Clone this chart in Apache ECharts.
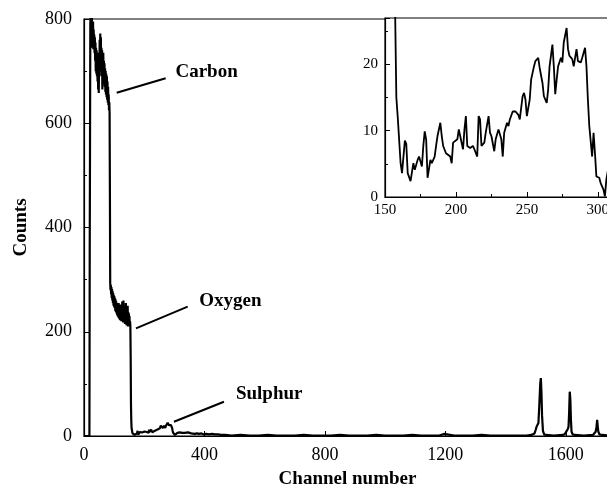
<!DOCTYPE html>
<html><head><meta charset="utf-8">
<script src="https://cdn.jsdelivr.net/npm/echarts@6/dist/echarts.min.js"></script>
<style>html,body{margin:0;padding:0;background:#fff}#c{width:607px;height:489px}</style>
</head><body><div id="c"></div>
<script>
// ---- data: [channel, counts] ----
const riseRegion = [[0,0],[5,0],[10,0],[15,0],[18,0],[19,350],[20,560]];
const carbonRegion = [[21,790],[22,810],[23,760],[24,805],[25,750],[26,810],[27,745],[28,790],[29,760],[30,795],[31,742],[32,780],[33,750],[34,770],[35,735],[36,765],[37,720],[38,755],[39,700],[40,745],[41,695],[42,740],[43,690],[44,720],[45,680],[46,735],[47,665],[48,700],[49,658],[50,720],[51,690],[52,760],[53,700],[54,772],[55,720],[56,765],[57,700],[58,745],[59,690],[60,740],[61,665],[62,730],[63,690],[64,735],[65,680],[66,720],[67,675],[68,715],[69,670],[70,705],[71,660],[72,700],[73,655],[74,695],[75,650],[76,690],[77,645],[78,680],[79,640],[80,670],[81,635],[82,655],[83,625],[84,640],[85,620]];
const oxygenRegion = [[86,470],[87,294],[88,280],[89,290],[90,272],[91,286],[92,265],[93,282],[94,260],[95,278],[96,255],[97,274],[98,250],[99,270],[100,248],[101,268],[102,245],[103,264],[104,240],[105,262],[106,238],[107,258],[108,235],[109,255],[110,232],[111,252],[112,230],[113,250],[114,228],[115,255],[116,226],[117,250],[118,224],[119,248],[120,222],[121,252],[122,225],[123,245],[124,220],[125,250],[126,222],[127,258],[128,220],[129,248],[130,218],[131,260],[132,222],[133,245],[134,218],[135,250],[136,215],[137,245],[138,215],[139,255],[140,214],[141,245],[142,212],[143,240],[144,212],[145,250],[146,210],[147,238],[148,212],[149,235],[150,210],[151,230],[152,212],[153,220],[154,210],[155,150],[156,60],[157,30],[158,15],[159,12]];
const sulphurRegion = [[161,5.1],[162,3.6],[164,8.5],[165,8],[166,3.6],[168,2.4],[170,5.1],[171,4.1],[173,5.6],[174,6.1],[176,4.6],[177,7.7],[178,9.9],[179,8.7],[180,2.9],[182,5.6],[183,5.1],[185,6.1],[186,7.7],[187,9.2],[189,11.2],[190,9.2],[191,7.7],[193,6.6],[194,6.9],[196,6.1],[197,5.1],[198,8.2],[199,8.4],[201,8.7],[202,10.2],[203,9.2],[205,7.2],[206,10.2],[207,12.2],[208,7.7],[210,7.4],[212,7.7],[213,7.2],[215,6.1],[216,12.2],[217,11.7],[218,7.7],[220,8.2],[221,9.7],[223,12.2],[224,9.7],[225,9.2],[227,6.9],[228,8.7],[230,10.2],[232,8.7],[233,6.1],[234,9.7],[236,11.2],[237,10.7],[238,11.7],[240,12.9],[242,12.9],[244,12.4],[245,11.7],[247,15.2],[248,15.7],[249,14.7],[250,12.2],[252,14.7],[253,17.7],[255,19.7],[256,20.5],[258,21],[259,19.5],[261,17.2],[262,15.2],[264,14.2],[265,16.2],[266,19.7],[268,23],[269,19.7],[270,15.5],[271,17.7],[272,19.7],[274,21],[275,20.3],[276,23.3],[278,25.5],[279,22.3],[280,21.3],[282,20.8],[283,19.7],[285,22.3],[286,20.5],[288,20.3],[289,21],[291,22.5],[292,19.7],[293,14.7],[294,10.7],[296,6.1],[297,9.7],[298,6.6],[299,3.1],[301,2.9],[302,2.1],[304,1.1],[305,0.1],[306,2.6],[308,5.1]];
const tailRegion = [[310,6],[314,4],[318,7],[322,5],[326,6],[330,4],[335,6],[340,5],[345,7],[350,4],[356,5],[362,6],[368,4],[375,5],[382,4],[390,5],[398,3],[406,4],[415,3],[425,4],[435,3],[445,3],[455,2],[470,2],[490,1],[520,2],[550,1],[580,1],[610,2],[640,1],[670,1],[700,1],[730,2],[760,1],[790,1],[820,1],[850,2],[880,1],[910,1],[940,1],[970,2],[1000,1],[1030,1],[1060,1],[1090,2],[1120,1],[1150,1],[1180,1],[1195,4],[1200,1],[1230,1],[1260,1],[1290,1],[1320,2],[1350,1],[1380,1],[1410,1],[1440,1],[1470,1],[1485,2]];
const peakRegion = [[1490,2],[1496,5],[1500,12],[1503,18],[1506,15],[1509,25],[1512,60],[1515,100],[1517,111],[1519,85],[1521,40],[1524,10],[1528,3],[1535,2],[1560,1],[1590,2],[1597,4],[1601,8],[1604,6],[1607,14],[1609,18],[1611,45],[1613,85],[1615,70],[1617,30],[1619,8],[1623,3],[1630,2],[1660,1],[1690,2],[1695,4],[1699,8],[1702,18],[1704,31],[1706,18],[1708,8],[1712,3],[1720,2],[1740,1],[1760,2]];
const spectrum = [].concat(riseRegion, carbonRegion, oxygenRegion, sulphurRegion, tailRegion, peakRegion);

const annotationLabels = ['Carbon', 'Oxygen', 'Sulphur'];
const annotationFrom = [[108.5, 658.6], [172.6, 206.6], [298.7, 27.4]];
const annotationTo = [[271.2, 686.2], [344.2, 248.1], [464.7, 65.8]];
const annotationText = [[303.7, 698.9], [382.7, 259.6], [504.5, 80]];

const FONT = '"Liberation Serif", "Times New Roman", serif';
const chart = echarts.init(document.getElementById('c'));
const plain = function (v) { return String(v); };

const axisCommon = {
  type: 'value',
  splitLine: {show: false},
  axisLine: {show: true, onZero: false, lineStyle: {color: '#000', width: 1.2}},
  axisTick: {show: true, inside: true, length: 5, lineStyle: {color: '#000', width: 1}},
  minorTick: {show: true, splitNumber: 2, length: 3, lineStyle: {color: '#000', width: 1}}
};

chart.setOption({
  animation: false,
  backgroundColor: '#fff',
  grid: [
    {left: 84, top: 19, width: 527, height: 417, show: true, borderColor: '#000', borderWidth: 1.2,
     containLabel: false, outerBoundsMode: 'none'},
    {left: 385, top: 18, width: 227, height: 179, show: true, borderColor: '#000', borderWidth: 1.2, backgroundColor: '#fff',
     containLabel: false, outerBoundsMode: 'none'}
  ],
  xAxis: [
    Object.assign({}, axisCommon, {
      gridIndex: 0, min: 0, max: 1750, interval: 400,
      minorTick: {show: false},
      axisLabel: {fontFamily: FONT, fontSize: 18, color: '#000', margin: 10, showMaxLabel: false, formatter: plain},
      name: 'Channel number', nameLocation: 'middle', nameGap: 34,
      nameTextStyle: {fontFamily: FONT, fontSize: 19, fontWeight: 'bold', color: '#000'}
    }),
    Object.assign({}, axisCommon, {
      gridIndex: 1, min: 150, max: 310, interval: 50,
      axisLabel: {fontFamily: FONT, fontSize: 15, color: '#000', margin: 6, showMaxLabel: false, formatter: plain}
    })
  ],
  yAxis: [
    Object.assign({}, axisCommon, {
      gridIndex: 0, min: 0, max: 800, interval: 200,
      axisLabel: {fontFamily: FONT, fontSize: 18, color: '#000', margin: 12, formatter: plain},
      name: 'Counts', nameLocation: 'middle', nameGap: 53,
      nameTextStyle: {fontFamily: FONT, fontSize: 19, fontWeight: 'bold', color: '#000'}
    }),
    Object.assign({}, axisCommon, {
      gridIndex: 1, min: 0, max: 27, interval: 10,
      axisLabel: {fontFamily: FONT, fontSize: 15, color: '#000', margin: 7, showMaxLabel: false, formatter: plain}
    })
  ],
  series: [
    {type: 'line', xAxisIndex: 0, yAxisIndex: 0, data: spectrum, showSymbol: false, clip: true, silent: true,
     lineStyle: {color: '#000', width: 2.2}},
    {type: 'line', xAxisIndex: 1, yAxisIndex: 1, data: spectrum, showSymbol: false, clip: true, silent: true,
     lineStyle: {color: '#000', width: 1.8}}
  ]
});

const graphics = [];
annotationLabels.forEach(function (label, i) {
  const p1 = chart.convertToPixel({gridIndex: 0}, annotationFrom[i]);
  const p2 = chart.convertToPixel({gridIndex: 0}, annotationTo[i]);
  const pt = chart.convertToPixel({gridIndex: 0}, annotationText[i]);
  graphics.push({type: 'line', shape: {x1: p1[0], y1: p1[1], x2: p2[0], y2: p2[1]},
    style: {stroke: '#000', lineWidth: 2}, z: 10, silent: true});
  graphics.push({type: 'text', x: pt[0], y: pt[1], z: 10, silent: true,
    style: {text: label, font: 'bold 19px ' + FONT, fill: '#000', align: 'left', verticalAlign: 'middle',
            textAlign: 'left', textVerticalAlign: 'middle'}});
});
chart.setOption({graphic: graphics});
</script>
</body></html>
